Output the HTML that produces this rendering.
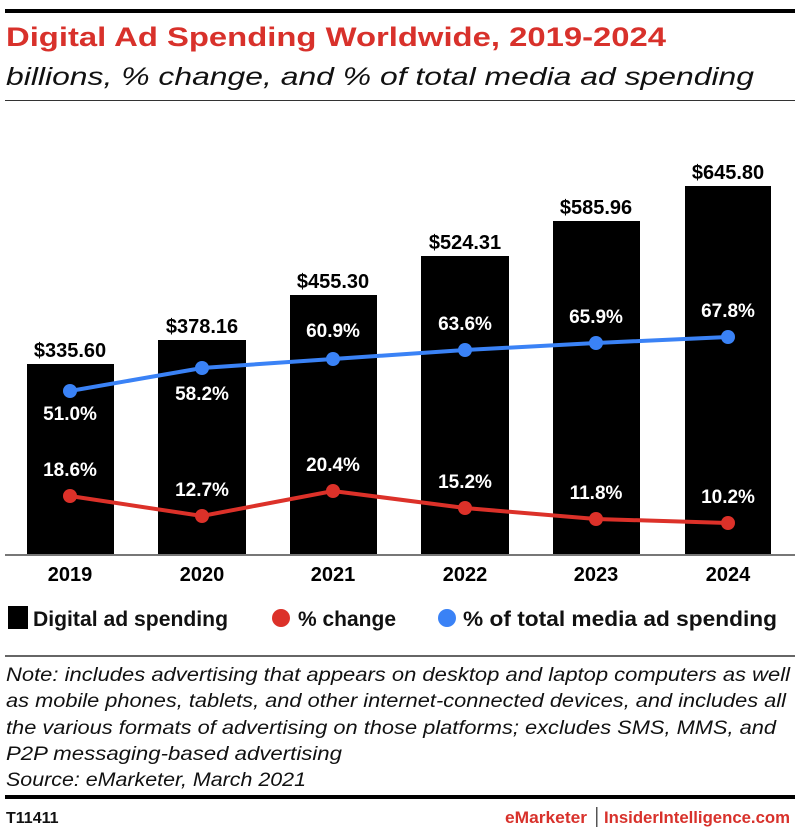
<!DOCTYPE html>
<html><head><style>
body{margin:0;background:#fff;width:800px;height:834px;overflow:hidden;font-family:"Liberation Sans",sans-serif}
</style></head><body>
<svg width="800" height="834" xmlns="http://www.w3.org/2000/svg" font-family="Liberation Sans, sans-serif">
<rect x="5" y="9" width="790" height="4" fill="#000"/>
<text x="6" y="46" font-size="27" font-weight="bold" fill="#d8312b" textLength="660" lengthAdjust="spacingAndGlyphs">Digital Ad Spending Worldwide, 2019-2024</text>
<text x="6" y="85" font-size="25" font-style="italic" fill="#111" textLength="748" lengthAdjust="spacingAndGlyphs">billions, % change, and % of total media ad spending</text>
<rect x="5" y="100" width="790" height="1" fill="#333"/>
<g fill="#000">
<rect x="27" y="364" width="87" height="191"/>
<rect x="158" y="340" width="88" height="215"/>
<rect x="290" y="295" width="87" height="260"/>
<rect x="421" y="256" width="88" height="299"/>
<rect x="553" y="221" width="87" height="334"/>
<rect x="685" y="186" width="86" height="369"/>
</g>
<rect x="5" y="554" width="790" height="2" fill="#777"/>
<g font-size="20" font-weight="bold" text-anchor="middle" fill="#000">
<text x="70" y="357">$335.60</text>
<text x="202" y="333">$378.16</text>
<text x="333" y="288">$455.30</text>
<text x="465" y="249">$524.31</text>
<text x="596" y="214">$585.96</text>
<text x="728" y="179">$645.80</text>
<text x="70" y="581">2019</text><text x="202" y="581">2020</text><text x="333" y="581">2021</text>
<text x="465" y="581">2022</text><text x="596" y="581">2023</text><text x="728" y="581">2024</text>
</g>
<polyline points="70,391 202,368 333,359 465,350 596,343 728,337" fill="none" stroke="#3a82f6" stroke-width="4"/>
<g fill="#3a82f6"><circle cx="70" cy="391" r="7"/><circle cx="202" cy="368" r="7"/><circle cx="333" cy="359" r="7"/><circle cx="465" cy="350" r="7"/><circle cx="596" cy="343" r="7"/><circle cx="728" cy="337" r="7"/></g>
<polyline points="70,496 202,516 333,491 465,508 596,519 728,523" fill="none" stroke="#dc3129" stroke-width="4"/>
<g fill="#dc3129"><circle cx="70" cy="496" r="7"/><circle cx="202" cy="516" r="7"/><circle cx="333" cy="491" r="7"/><circle cx="465" cy="508" r="7"/><circle cx="596" cy="519" r="7"/><circle cx="728" cy="523" r="7"/></g>
<g font-size="19" font-weight="bold" text-anchor="middle" fill="#fff">
<text x="70" y="420">51.0%</text><text x="202" y="400">58.2%</text><text x="333" y="337">60.9%</text>
<text x="465" y="330">63.6%</text><text x="596" y="323">65.9%</text><text x="728" y="317">67.8%</text>
<text x="70" y="476">18.6%</text><text x="202" y="496">12.7%</text><text x="333" y="471">20.4%</text>
<text x="465" y="488">15.2%</text><text x="596" y="499">11.8%</text><text x="728" y="503">10.2%</text>
</g>
<rect x="8" y="606" width="20" height="23" fill="#000"/>
<g font-size="21" font-weight="bold" fill="#111">
<text x="33" y="626" textLength="195" lengthAdjust="spacingAndGlyphs">Digital ad spending</text>
<circle cx="281" cy="618" r="9" fill="#dc3129"/>
<text x="298" y="626" textLength="98" lengthAdjust="spacingAndGlyphs">% change</text>
<circle cx="447" cy="618" r="9" fill="#3a82f6"/>
<text x="463" y="626" textLength="314" lengthAdjust="spacingAndGlyphs">% of total media ad spending</text>
</g>
<rect x="5" y="655" width="790" height="2" fill="#666"/>
<g font-size="19" font-style="italic" fill="#111">
<text x="6" y="681" textLength="784" lengthAdjust="spacingAndGlyphs">Note: includes advertising that appears on desktop and laptop computers as well</text>
<text x="6" y="707" textLength="780" lengthAdjust="spacingAndGlyphs">as mobile phones, tablets, and other internet-connected devices, and includes all</text>
<text x="6" y="734" textLength="770" lengthAdjust="spacingAndGlyphs">the various formats of advertising on those platforms; excludes SMS, MMS, and</text>
<text x="6" y="760" textLength="336" lengthAdjust="spacingAndGlyphs">P2P messaging-based advertising</text>
<text x="6" y="786" textLength="300" lengthAdjust="spacingAndGlyphs">Source: eMarketer, March 2021</text>
</g>
<rect x="5" y="795" width="790" height="4" fill="#000"/>
<text x="6" y="823" font-size="16" font-weight="bold" fill="#111">T11411</text>
<text x="505" y="823" font-size="17" font-weight="bold" fill="#d8312b" textLength="82" lengthAdjust="spacingAndGlyphs">eMarketer</text>
<rect x="596" y="807" width="1.5" height="20" fill="#555"/>
<text x="604" y="823" font-size="17" font-weight="bold" fill="#d8312b" textLength="186" lengthAdjust="spacingAndGlyphs">InsiderIntelligence.com</text>
</svg>
</body></html>
